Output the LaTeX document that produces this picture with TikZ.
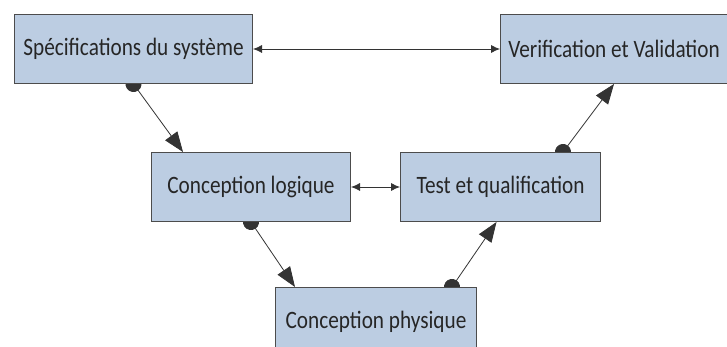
\documentclass[tikz,border=0pt]{standalone}
\usepackage{fontspec}
\setmainfont{Carlito}[FakeStretch=0.85]
\usetikzlibrary{arrows.meta,calc}
\pgfdeclarelayer{fond}
\pgfsetlayers{fond,main}
\definecolor{bleuacier}{RGB}{188,205,226}

\begin{document}
\begin{tikzpicture}[every node/.style={inner sep=0pt,text=black!85,font=\fontsize{25}{28}\selectfont},
	etape/.style={rectangle, fill=bleuacier, line width=1pt, draw=black!70, anchor=north west},
	every edge/.style={draw, line width=0.8pt, color=black!80},
	lien/.style={{Circle[length=16pt]}-{Triangle[length=20pt,width=15pt]}, shorten <=-8pt},
	double/.style={{Latex[length=9pt,width=8pt]}-{Latex[length=9pt,width=8pt]}}
]
\clip (0pt,0pt) rectangle (727pt,-347pt);
\node (spec) [etape, minimum width=238pt, minimum height=69pt] at (14pt, -14pt) {Spécifications du système};
\node (verif) [etape, minimum width=227pt, minimum height=69pt] at (500pt, -14pt) {Verification et Validation};
\node (logique) [etape, minimum width=199pt, minimum height=69pt] at (151pt, -152pt) {Conception logique};
\node (test) [etape, minimum width=200pt, minimum height=69pt] at (400pt, -152pt) {Test et qualification};
\node (physique) [etape, minimum width=201pt, minimum height=69pt] at (275pt, -287pt) {Conception physique};
\begin{pgfonlayer}{fond}
\fill[white] (0pt,0pt) rectangle (727pt,-347pt);
\path 
(spec) edge [double] (verif)
(logique) edge [double] (test)
(spec.south) edge [lien] ($(logique.north west)+(32pt,0)$)
(logique.south) edge [lien] ($(physique.north west)+(20pt,0)$)
($(physique.north east)+(-25pt,0)$) edge [lien] ($(test.south)+(-4pt,0)$)
($(test.north east)+(-38pt,0)$) edge [lien] (verif.south);
\end{pgfonlayer}
\end{tikzpicture}
\end{document}
